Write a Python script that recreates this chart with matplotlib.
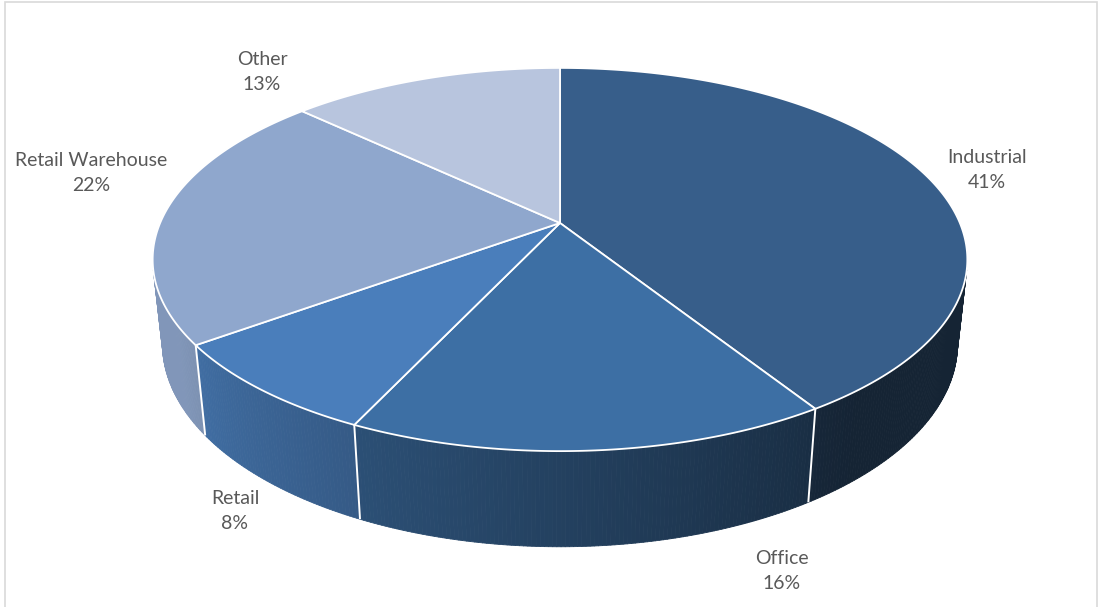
import matplotlib.pyplot as plt
import numpy as np
from matplotlib.collections import PolyCollection
from matplotlib.patches import Polygon, Rectangle

# данные
labels = ["Industrial", "Office", "Retail", "Retail Warehouse", "Other"]
shares = [41, 16, 8, 22, 13]
colors = ["#375E8A", "#3D6FA4", "#4A7EBB", "#8FA7CD", "#B8C5DE"]

# label block centres, px
label_pos = [(987, 170), (782, 571), (235, 511), (91, 173), (262, 72)]

# 3D pie geometry (perspective camera)
W, H = 1101, 607
cx, cy = 560, 223          # apex of the pie on screen
elev = np.radians(27.5)
dist = 4.654
focal = 1861.0
thick = 0.24


def project(theta, r=1.0, z=0.0):
    # theta: clockwise from 12 o'clock, degrees
    t = np.radians(theta)
    x = r * np.sin(t)
    y = r * np.cos(t)
    w = dist + y * np.cos(elev) - z * np.sin(elev)
    v = y * np.sin(elev) + z * np.cos(elev)
    return cx + focal * x / w, cy - focal * v / w


def shade(theta):
    return np.clip(0.4 + 0.5 * (theta - 145) / 95, 0.38, 0.9)


fig = plt.figure(figsize=(W / 100, H / 100), dpi=100)
ax = fig.add_axes([0, 0, 1, 1])
ax.set_xlim(0, W)
ax.set_ylim(H, 0)
ax.axis("off")

# рамка
fig.patches.append(Rectangle((5 / W, -0.05), 1092 / W, 1 - 2 / H + 0.05,
                             transform=fig.transFigure, fill=False,
                             edgecolor="#D9D9D9", lw=1.2))

fracs = np.array(shares) / sum(shares)
bounds = np.concatenate([[0], np.cumsum(fracs)]) * 360

# видимая боковая стенка: cos(theta) < -1/(D*cos e)
vis_lim = np.degrees(np.arccos(-1 / (dist * np.cos(elev))))
vis_lo, vis_hi = vis_lim, 360 - vis_lim

for i in range(len(shares)):
    a0, a1 = max(bounds[i], vis_lo), min(bounds[i + 1], vis_hi)
    if a1 <= a0:
        continue
    th = np.linspace(a0, a1, int((a1 - a0) * 2) + 2)
    base = np.array(plt.matplotlib.colors.to_rgb(colors[i]))
    quads, fcs = [], []
    for t0, t1 in zip(th[:-1], th[1:]):
        p = [project(t0), project(t1), project(t1, z=-thick), project(t0, z=-thick)]
        quads.append(p)
        fcs.append(np.clip(base * shade(0.5 * (t0 + t1)), 0, 1))
    ax.add_collection(PolyCollection(quads, facecolors=fcs, edgecolors=fcs, lw=0.6))

# white seams on the wall
for b in bounds[1:-1]:
    if vis_lo < b < vis_hi:
        x0, y0 = project(b)
        x1, y1 = project(b, z=-thick)
        ax.plot([x0, x1], [y0, y1], color="white", lw=1.4, solid_capstyle="butt")

# top faces
for i in range(len(shares)):
    th = np.linspace(bounds[i], bounds[i + 1], 200)
    pts = [project(0, r=0)] + [project(t) for t in th]
    ax.add_patch(Polygon(pts, closed=True, facecolor=colors[i],
                         edgecolor="white", lw=1.3, joinstyle="round"))

for i, (lab, val) in enumerate(zip(labels, shares)):
    x, y = label_pos[i]
    ax.text(x, y, f"{lab}\n{val}%", ha="center", va="center", fontsize=14,
            family="Lato", color="#595959", linespacing=1.6)

fig.savefig("out.png", dpi=100)
